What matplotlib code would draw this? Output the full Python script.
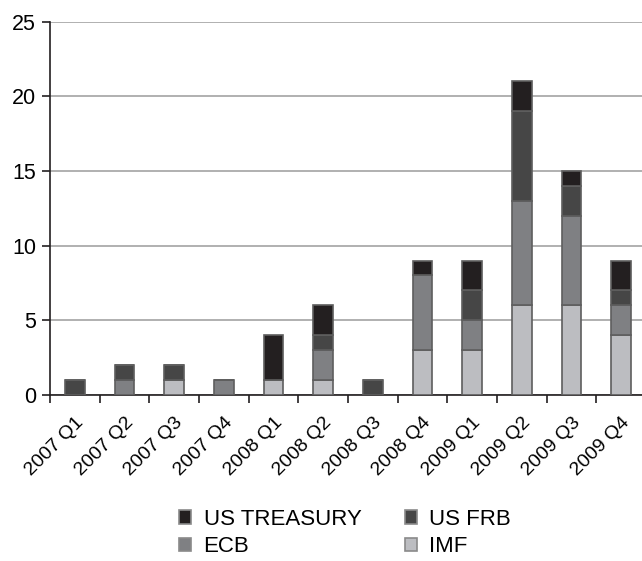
import numpy as np
import matplotlib.pyplot as plt
from matplotlib.patches import Patch

plt.rcParams["font.family"] = ["Liberation Sans", "DejaVu Sans"]

quarters = ["2007 Q1", "2007 Q2", "2007 Q3", "2007 Q4",
            "2008 Q1", "2008 Q2", "2008 Q3", "2008 Q4",
            "2009 Q1", "2009 Q2", "2009 Q3", "2009 Q4"]

# stacked from bottom: IMF, ECB, US FRB, US TREASURY
imf      = [0, 0, 1, 0, 1, 1, 0, 3, 3, 6, 6, 4]
ecb      = [0, 1, 0, 1, 0, 2, 0, 5, 2, 7, 6, 2]
us_frb   = [1, 1, 1, 0, 0, 1, 1, 0, 2, 6, 2, 1]
treasury = [0, 0, 0, 0, 3, 2, 0, 1, 2, 2, 1, 2]

series = [("IMF", imf, "#bcbdc1"),
          ("ECB", ecb, "#7f8083"),
          ("US FRB", us_frb, "#464646"),
          ("US TREASURY", treasury, "#231f20")]

fig = plt.figure(figsize=(6.42, 5.61), dpi=100)
ax = fig.add_axes([50 / 642, 1 - 395 / 561, 596 / 642, (395 - 21.5) / 561])

x = np.arange(len(quarters))
bottom = np.zeros(len(quarters))
for name, vals, col in series:
    vals = np.array(vals)
    ax.bar(x, vals, width=0.4, bottom=bottom, color=col,
           edgecolor="#5e5e5e", linewidth=1.2, zorder=3)
    bottom += vals

ax.set_xlim(-0.5, len(quarters) - 0.5)
ax.set_ylim(0, 25)
ax.set_yticks(range(0, 26, 5))
ax.yaxis.grid(True, color="#a3a3a3", linewidth=1.2, zorder=0)

ax.set_xticks(x)
ax.set_xticklabels(quarters, rotation=45, ha="right", va="top",
                   rotation_mode="anchor", fontsize=14)
ax.set_xticks(np.arange(-0.5, len(quarters), 1), minor=True)
ax.tick_params(axis="x", which="major", length=0, pad=14)
ax.tick_params(axis="x", which="minor", length=6, width=1.2, color="#231f20")
ax.tick_params(axis="y", length=6, width=1.2, color="#231f20",
               labelsize=15.5, pad=4)

for side in ["top", "right"]:
    ax.spines[side].set_visible(False)
for side in ["left", "bottom"]:
    ax.spines[side].set_color("#231f20")
    ax.spines[side].set_linewidth(1.2)

handles = {name: Patch(facecolor=col, edgecolor="#8a8a8a", linewidth=1.2)
           for name, _, col in series}
order = ["US TREASURY", "ECB", "US FRB", "IMF"]
fig.legend([handles[n] for n in order], order, ncol=2, loc="center",
           bbox_to_anchor=(345 / 642, 1 - 533 / 561), frameon=False,
           fontsize=16, handlelength=0.55, handleheight=0.55,
           handletextpad=0.55, columnspacing=1.95, labelspacing=0.3)

fig.savefig("out.png", dpi=100)
